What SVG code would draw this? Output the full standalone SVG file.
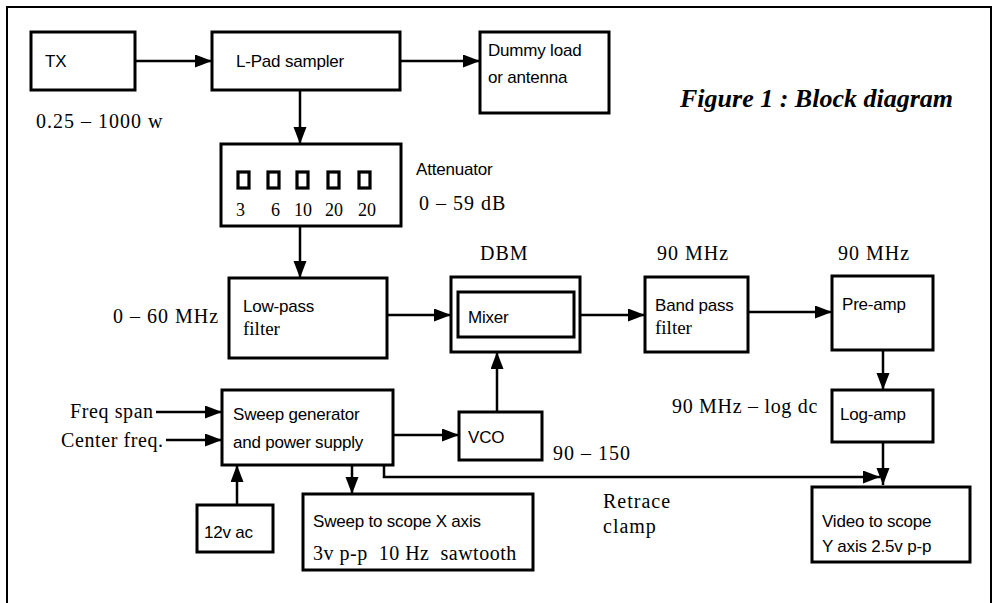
<svg xmlns="http://www.w3.org/2000/svg" width="999" height="603" viewBox="0 0 999 603">
<defs>
<marker id="ah" markerUnits="userSpaceOnUse" markerWidth="18" markerHeight="14" refX="17" refY="6.5" orient="auto">
<path d="M0,0 L17,6.5 L0,13 z" fill="#000"/>
</marker>
</defs>
<style>
.box{fill:#fff;stroke:#000;stroke-width:3}
.sq{fill:#fff;stroke:#000;stroke-width:3.2}
.c{fill:none;stroke:#000;stroke-width:2.5}
.a{fill:none;stroke:#000;stroke-width:2.5;marker-end:url(#ah)}
.s{font-family:"Liberation Sans",Arial,sans-serif;font-size:17px;fill:#000;letter-spacing:-0.2px}
.t{font-family:"Liberation Serif","Times New Roman",serif;font-size:20px;fill:#000;letter-spacing:1px}
.n{font-family:"Liberation Serif","Times New Roman",serif;font-size:18px;fill:#000}
.title{font-family:"Liberation Serif","Times New Roman",serif;font-size:26px;font-weight:bold;font-style:italic;fill:#000}
</style>
<rect width="999" height="603" fill="#fff"/>
<path d="M7,610 V7 H991 V610" fill="none" stroke="#000" stroke-width="2"/>

<g id="connectors">
<line class="a" x1="135" y1="61" x2="212" y2="61"/>
<line class="a" x1="400" y1="61" x2="480" y2="61"/>
<line class="a" x1="300" y1="90" x2="300" y2="144"/>
<line class="a" x1="300" y1="226" x2="300" y2="278"/>
<line class="a" x1="387" y1="315" x2="451" y2="315"/>
<line class="a" x1="580" y1="315" x2="645" y2="315"/>
<line class="a" x1="748" y1="312" x2="832" y2="312"/>
<line class="a" x1="883" y1="350" x2="883" y2="390"/>
<line class="a" x1="883" y1="442" x2="883" y2="485"/>
<line class="a" x1="497" y1="412" x2="497" y2="352"/>
<line class="a" x1="393" y1="435" x2="459" y2="435"/>
<line class="a" x1="156" y1="412" x2="222" y2="412"/>
<line class="a" x1="166" y1="440" x2="222" y2="440"/>
<line class="a" x1="237" y1="505" x2="237" y2="465"/>
<line class="a" x1="352" y1="465" x2="352" y2="494"/>
<polyline class="a" points="384,465 384,477 880,477"/>
</g>

<g id="tx"><rect class="box" x="31" y="32" width="104" height="58"/><text class="s" x="45" y="67">TX</text></g>
<g id="lpad"><rect class="box" x="212" y="32" width="188" height="58"/><text class="s" x="236" y="67">L-Pad sampler</text></g>
<g id="dummy"><rect class="box" x="480" y="32" width="129" height="81"/><text class="s" x="488" y="56">Dummy load</text><text class="s" x="488" y="83">or antenna</text></g>
<text class="t" x="36" y="128">0.25 – 1000 w</text>
<text class="title" x="680" y="107">Figure 1 : Block diagram</text>

<g id="attenuator">
<rect class="box" x="221" y="144" width="180" height="82"/>
<rect class="sq" x="238" y="172" width="11" height="16"/>
<rect class="sq" x="268" y="172" width="11" height="16"/>
<rect class="sq" x="297" y="172" width="11" height="16"/>
<rect class="sq" x="328" y="172" width="11" height="16"/>
<rect class="sq" x="359" y="172" width="11" height="16"/>
<text class="n" x="236" y="216">3</text>
<text class="n" x="271" y="216">6</text>
<text class="n" x="294" y="216">10</text>
<text class="n" x="325" y="216">20</text>
<text class="n" x="358" y="216">20</text>
</g>
<text class="s" x="416" y="175">Attenuator</text>
<text class="t" x="419" y="210">0 – 59 dB</text>
<text class="t" x="480" y="260">DBM</text>
<text class="t" x="657" y="260">90 MHz</text>
<text class="t" x="838" y="260">90 MHz</text>

<g id="lowpass"><rect class="box" x="229" y="278" width="158" height="80"/><text class="s" x="243" y="312">Low-pass</text><text class="n" x="243" y="335" style="font-size:19px">filter</text></g>
<text class="t" x="113" y="323">0 – 60 MHz</text>
<g id="mixer"><rect class="box" x="451" y="277" width="129" height="75"/><rect class="box" x="458" y="292" width="116" height="45"/><text class="s" x="468" y="323">Mixer</text></g>
<g id="bandpass"><rect class="box" x="645" y="277" width="103" height="75"/><text class="s" x="655" y="311">Band pass</text><text class="n" x="655" y="334" style="font-size:19px">filter</text></g>
<g id="preamp"><rect class="box" x="832" y="276" width="101" height="74"/><text class="s" x="842" y="310">Pre-amp</text></g>

<g id="sweep"><rect class="box" x="222" y="390" width="171" height="75"/><text class="s" x="233" y="420">Sweep generator</text><text class="s" x="233" y="448">and power supply</text></g>
<text class="t" x="70" y="418" style="letter-spacing:0.6px">Freq span</text>
<text class="t" x="61" y="447" style="letter-spacing:0.6px">Center freq.</text>
<g id="vco"><rect class="box" x="459" y="412" width="83" height="48"/><text class="s" x="468" y="443">VCO</text></g>
<text class="t" x="553" y="460">90 – 150</text>
<text class="t" x="672" y="413" style="letter-spacing:0.7px">90 MHz – log dc</text>
<g id="logamp"><rect class="box" x="832" y="390" width="101" height="52"/><text class="s" x="840" y="420">Log-amp</text></g>
<g id="ac"><rect class="box" x="197" y="505" width="76" height="47"/><text class="s" x="204" y="538">12v ac</text></g>
<g id="sweepx"><rect class="box" x="303" y="494" width="230" height="76"/><text class="s" x="313" y="527">Sweep to scope X axis</text><text class="t" x="313" y="560" xml:space="preserve" style="letter-spacing:0.5px">3v p-p  10 Hz  sawtooth</text></g>
<text class="t" x="603" y="508">Retrace</text>
<text class="t" x="603" y="533">clamp</text>
<g id="video"><rect class="box" x="812" y="487" width="158" height="75"/><text class="s" x="822" y="527">Video to scope</text><text class="s" x="822" y="552">Y axis 2.5v p-p</text></g>
</svg>
